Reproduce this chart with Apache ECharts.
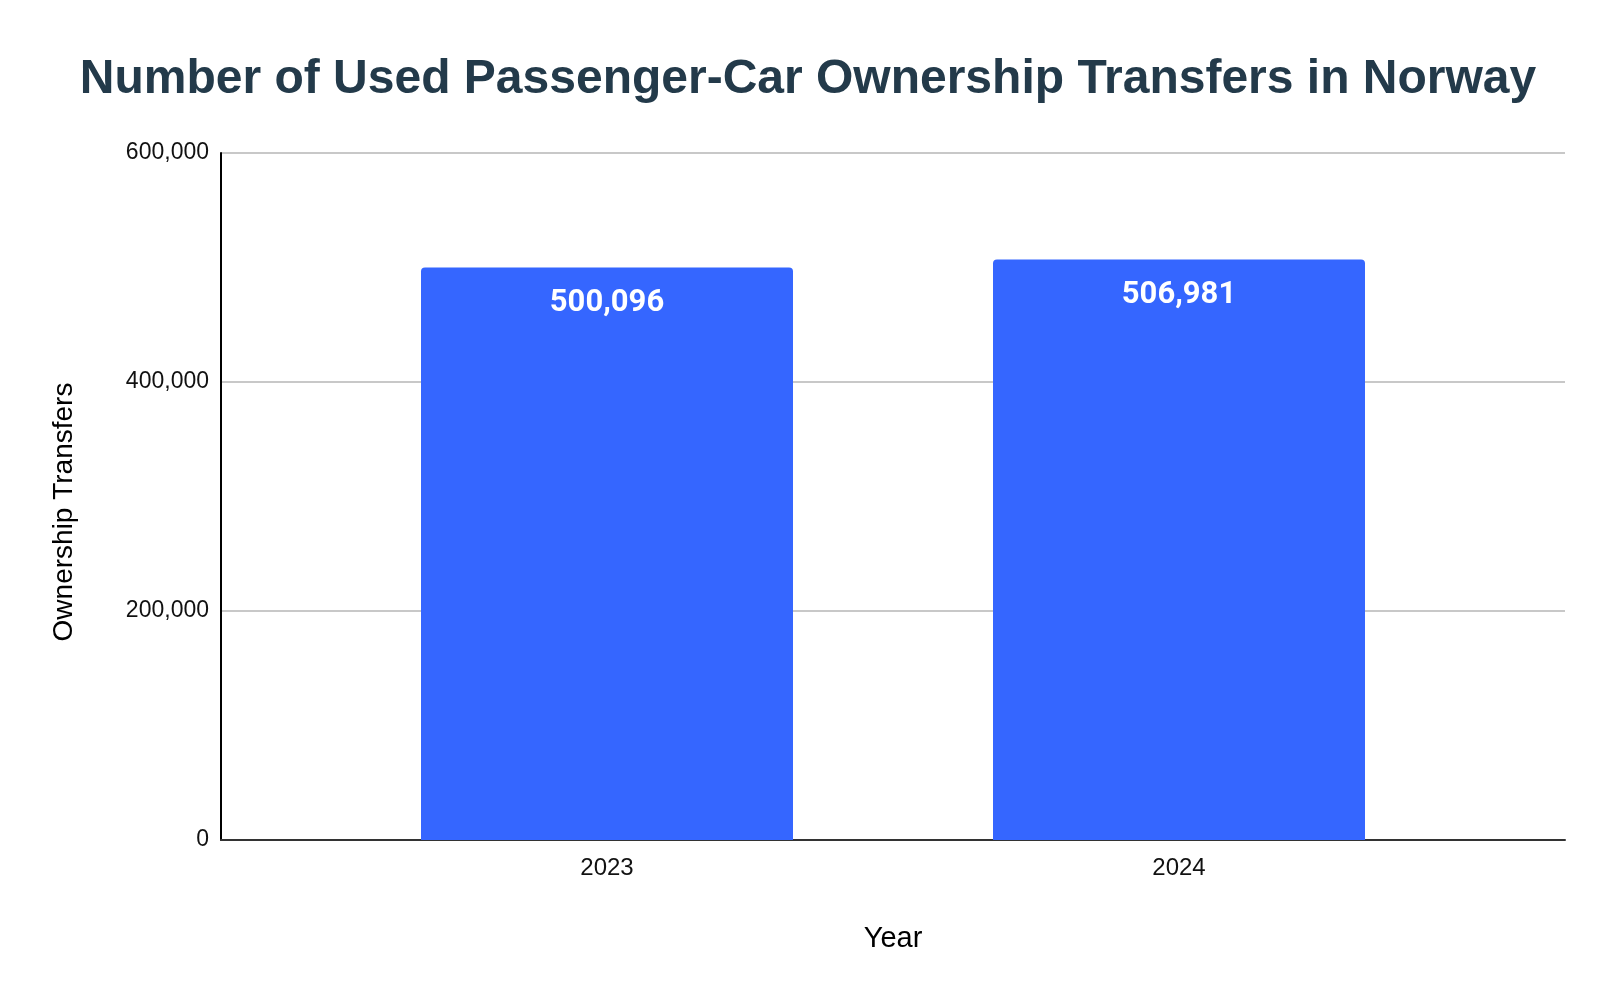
<!DOCTYPE html>
<html>
<head>
<meta charset="utf-8">
<script src="https://cdn.jsdelivr.net/npm/echarts@6/dist/echarts.min.js"></script>
<style>html,body{margin:0;padding:0;background:#fff}#c{width:1616px;height:1004px}</style>
</head>
<body>
<div id="c"></div>
<script>
var categories = ['2023', '2024'];
var transfers = [500096, 506981];
var yTicks = [0, 200000, 400000, 600000];

var fontA = 'Arial, Liberation Sans';
var chart = echarts.init(document.getElementById('c'));
chart.setOption({
  animation: false,
  backgroundColor: '#ffffff',
  title: {
    text: 'Number of Used Passenger-Car Ownership Transfers in Norway',
    left: 'center',
    top: 51,
    textStyle: { fontFamily: fontA, fontWeight: 'bold', fontSize: 48, color: '#233a4a' }
  },
  grid: [
    { left: 221, right: 51, top: 153, bottom: 164 },
    { left: 321, right: 151, top: 153, bottom: 164 }
  ],
  xAxis: [{
    gridIndex: 0,
    type: 'category',
    data: categories,
    axisLine: { lineStyle: { color: '#333', width: 2 } },
    axisTick: { show: false },
    axisLabel: { show: false }
  }, {
    gridIndex: 1,
    type: 'category',
    data: categories,
    name: 'Year',
    nameLocation: 'middle',
    nameGap: 84,
    nameTextStyle: { fontFamily: fontA, fontSize: 29, color: '#000' },
    axisLine: { show: false },
    axisTick: { show: false },
    axisLabel: { fontFamily: fontA, fontSize: 24, color: '#111', margin: 16 }
  }],
  yAxis: [{
    gridIndex: 0,
    type: 'value',
    min: 0,
    max: 600000,
    interval: 200000,
    name: 'Ownership Transfers',
    nameLocation: 'middle',
    nameGap: 143,
    nameTextStyle: { fontFamily: fontA, fontSize: 28, color: '#000', padding: [0, 31, 0, 0] },
    axisLine: { show: true, lineStyle: { color: '#000', width: 2 } },
    axisTick: { show: false },
    splitLine: { lineStyle: { color: '#c8c8c8', width: 2 } },
    axisLabel: {
      fontFamily: fontA, fontSize: 23, color: '#111', margin: 12,
      formatter: function (v) { return yTicks.indexOf(v) >= 0 ? v.toLocaleString('en-US') : ''; }
    }
  }, {
    gridIndex: 1,
    type: 'value',
    min: 0,
    max: 600000,
    interval: 200000,
    show: false
  }],
  series: [{
    type: 'bar',
    xAxisIndex: 1,
    yAxisIndex: 1,
    data: transfers,
    barWidth: 372,
    itemStyle: { color: '#3566ff', borderRadius: [4, 4, 0, 0] },
    label: {
      show: true,
      position: 'insideTop',
      distance: 20,
      fontFamily: 'Roboto',
      fontWeight: 'bold',
      fontSize: 31,
      color: '#ffffff',
      formatter: function (p) { return p.value.toLocaleString('en-US'); }
    }
  }]
});
</script>
</body>
</html>
